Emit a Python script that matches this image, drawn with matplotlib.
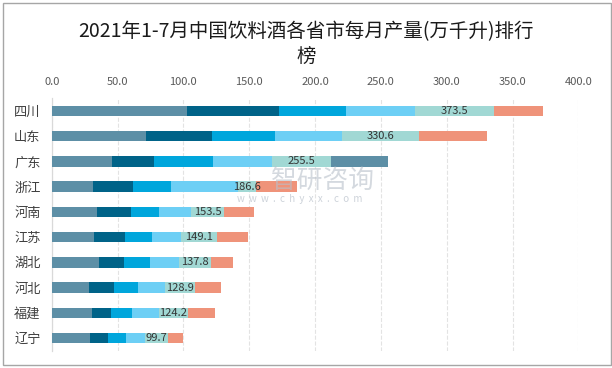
import matplotlib
matplotlib.use("Agg")
import matplotlib.pyplot as plt
import numpy as np
from matplotlib.patches import Rectangle

plt.rcParams['font.family'] = ['Noto Sans CJK SC', 'DejaVu Sans']

# 数据：各省市每月产量（万千升），从上到下排列
provinces = ['四川', '山东', '广东', '浙江', '河南', '江苏', '湖北', '河北', '福建', '辽宁']
m1_2 = [102.6, 71.6, 45.8, 31.4, 34.4, 32.2, 35.9, 28.4, 30.6, 29.1]
m3 = [69.8, 50.2, 31.9, 30.4, 25.9, 23.5, 19.0, 18.9, 14.5, 13.7]
m4 = [50.8, 47.8, 44.8, 28.8, 21.2, 20.5, 19.8, 18.3, 15.9, 13.7]
m5 = [53.1, 50.9, 44.6, 51.1, 24.3, 22.0, 22.0, 20.5, 20.5, 14.4]
m6 = [59.3, 58.5, 45.1, 13.5, 25.1, 27.1, 24.3, 22.8, 22.0, 17.7]
m7 = [37.9, 51.6, 0.0, 31.4, 22.6, 23.8, 16.8, 20.0, 20.7, 11.1]
m7_extra = [0.0, 0.0, 43.3, 0.0, 0.0, 0.0, 0.0, 0.0, 0.0, 0.0]  # 广东最后一段颜色不同
totals = [373.5, 330.6, 255.5, 186.6, 153.5, 149.1, 137.8, 128.9, 124.2, 99.7]

series = [m1_2, m3, m4, m5, m6, m7, m7_extra]
colors = ['#5D8FA6', '#006388', '#00A6DC', '#6DCFF5', '#A1D8D4', '#EF937A', '#5D8FA6']

fig = plt.figure(figsize=(6.12, 3.68), dpi=100)
ax = fig.add_axes([0.0845, 0.047, 0.8605, 0.686])

y = np.arange(len(provinces))
left = np.zeros(len(provinces))
starts = []
for vals, c in zip(series, colors):
    vals = np.array(vals)
    starts.append(left.copy())
    ax.barh(y, vals, left=left, height=0.42, color=c, zorder=3)
    left = left + vals

# 合计标签放在第5段中间
lab_x = starts[4] + np.array(m6) / 2
for yi, xi, t in zip(y, lab_x, totals):
    ax.text(xi, yi, f'{t:.1f}', ha='center', va='center', fontsize=8,
            color='#333333', zorder=4)

ax.set_xlim(0, 400)
ax.set_ylim(len(provinces) - 0.5, -0.5)
ax.set_xticks(np.arange(0, 401, 50))
ax.set_xticklabels([f'{v:.1f}' for v in np.arange(0, 401, 50)])
ax.xaxis.tick_top()
ax.tick_params(axis='x', length=0, pad=8, labelsize=8, labelcolor='#595959')
ax.set_yticks(y)
ax.set_yticklabels(provinces)
ax.tick_params(axis='y', length=0, pad=8, labelsize=9.5, labelcolor='#404040')

ax.grid(axis='x', linestyle='--', color='#E3E3E3', linewidth=0.8, zorder=0)
for s in ['top', 'right', 'bottom']:
    ax.spines[s].set_visible(False)
ax.spines['left'].set_color('#D9D9D9')
ax.spines['left'].set_linewidth(0.9)

fig.text(0.5, 0.878, '2021年1-7月中国饮料酒各省市每月产量(万千升)排行\n榜',
         ha='center', va='center', fontsize=14, color='#1A1A1A',
         linespacing=1.3)

# 水印
fig.text(0.442, 0.508, '智研咨询', fontsize=18.5, color='#B8C0CA', alpha=0.6,
         ha='left', va='center', zorder=5)
fig.text(0.388, 0.460, 'w  w  w  .  c  h  y  x  x  .  c  o  m', fontsize=7,
         color='#B8C0CA', alpha=0.7, ha='left', va='center', zorder=5)

fig.patches.append(Rectangle((0.005, 0.008), 0.993, 0.983, transform=fig.transFigure,
                             fill=False, edgecolor='#A6A6A6', linewidth=1))

fig.savefig('out.png', dpi=100, facecolor='white')
